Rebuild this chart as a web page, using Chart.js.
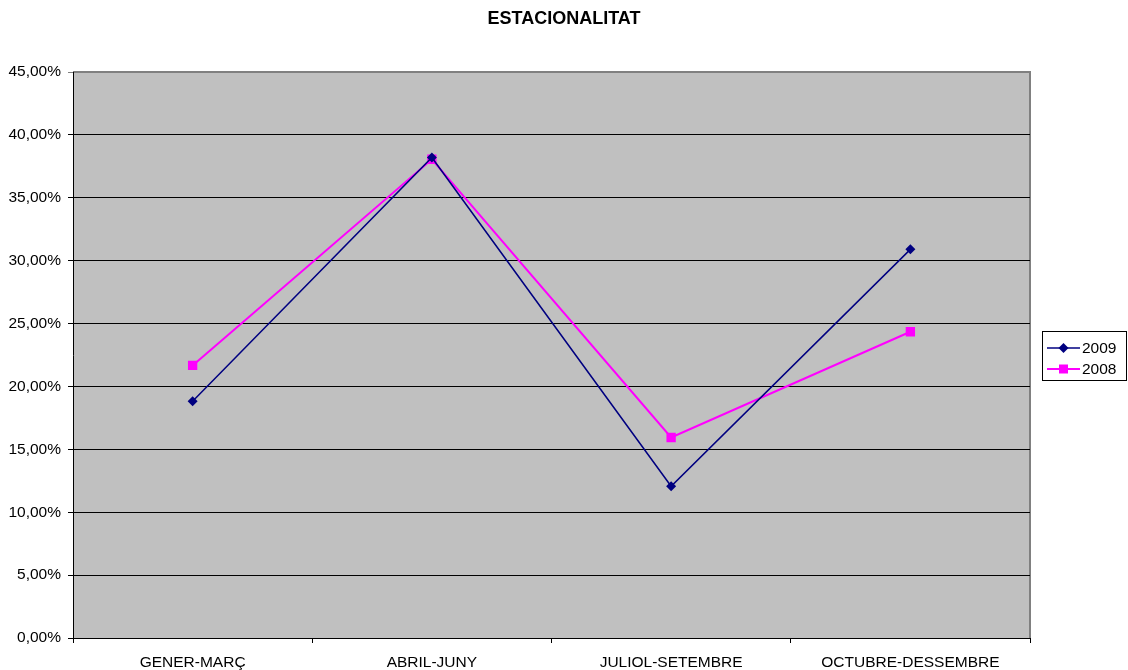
<!DOCTYPE html>
<html>
<head>
<meta charset="utf-8">
<script src="https://cdn.jsdelivr.net/npm/chart.js@4"></script>
<style>
  html, body { margin: 0; padding: 0; background: #fff; }
  #wrap { width: 1128px; height: 670px; }
</style>
</head>
<body>
<div id="wrap"><canvas id="chart" width="1128" height="670"></canvas></div>
<script>
const categories = ["GENER-MARÇ", "ABRIL-JUNY", "JULIOL-SETEMBRE", "OCTUBRE-DESSEMBRE"];
const values2009 = [18.83, 38.2, 12.06, 30.9];
const values2008 = [21.67, 38.06, 15.94, 24.35];
const seriesNames = ["2009", "2008"];
const chartTitle = "ESTACIONALITAT";

const FONT = "'Liberation Sans', Arial, sans-serif";

// gray plot background + frame
const plotBg = {
    id: "plotBg",
    beforeDraw(chart) {
        const a = chart.chartArea;
        const ctx = chart.ctx;
        ctx.save();
        ctx.fillStyle = "#C0C0C0";
        ctx.fillRect(a.left, a.top, a.right - a.left, a.bottom - a.top);
        ctx.strokeStyle = "#808080";
        ctx.lineWidth = 2;
        ctx.beginPath();
        ctx.moveTo(a.left, a.top);
        ctx.lineTo(a.right, a.top);
        ctx.lineTo(a.right, a.bottom);
        ctx.stroke();
        ctx.restore();
    }
};

// title centred on the whole picture, not on the plot
const pageTitle = {
    id: "pageTitle",
    afterDraw(chart) {
        const ctx = chart.ctx;
        ctx.save();
        ctx.fillStyle = "#000";
        ctx.font = "bold 18px " + FONT;
        ctx.textAlign = "center";
        ctx.textBaseline = "middle";
        ctx.fillText(chartTitle, chart.width / 2, 19);
        ctx.restore();
    }
};

// legend like the old office one: line with marker in the middle
const boxLegend = {
    id: "boxLegend",
    afterDraw(chart) {
        const ctx = chart.ctx;
        const x = 1042, y = 331, w = 84, h = 49;
        ctx.save();
        ctx.fillStyle = "#fff";
        ctx.fillRect(x, y, w, h);
        ctx.strokeStyle = "#000";
        ctx.lineWidth = 1;
        ctx.strokeRect(x + 0.5, y + 0.5, w, h);
        chart.data.datasets.forEach(function (ds, i) {
            const ly = y + 17 + i * 21;
            ctx.strokeStyle = ds.borderColor;
            ctx.lineWidth = ds.borderWidth;
            ctx.beginPath();
            ctx.moveTo(x + 5, ly);
            ctx.lineTo(x + 38, ly);
            ctx.stroke();
            ctx.fillStyle = ds.backgroundColor;
            ctx.beginPath();
            if (ds.pointStyle === "rectRot") {
                ctx.moveTo(x + 21.5, ly - 5);
                ctx.lineTo(x + 26.5, ly);
                ctx.lineTo(x + 21.5, ly + 5);
                ctx.lineTo(x + 16.5, ly);
                ctx.closePath();
            } else {
                ctx.rect(x + 17, ly - 4.5, 9, 9);
            }
            ctx.fill();
            ctx.fillStyle = "#000";
            ctx.font = "15.5px " + FONT;
            ctx.textBaseline = "middle";
            ctx.fillText(ds.label, x + 40, ly + 1);
        });
        ctx.restore();
    }
};

new Chart(document.getElementById("chart"), {
    type: "line",
    data: {
        labels: categories,
        datasets: [{
            label: seriesNames[0],
            data: values2009,
            borderColor: "#000080",
            backgroundColor: "#000080",
            borderWidth: 1.5,
            pointStyle: "rectRot",
            pointRadius: 5,
            pointBorderWidth: 0,
            tension: 0
        }, {
            label: seriesNames[1],
            data: values2008,
            borderColor: "#FF00FF",
            backgroundColor: "#FF00FF",
            borderWidth: 2,
            pointStyle: "rect",
            pointRadius: 6.6,
            pointBorderWidth: 0,
            tension: 0
        }]
    },
    options: {
        responsive: false,
        animation: false,
        layout: { padding: { top: 72, right: 98, left: 0, bottom: 0 } },
        plugins: {
            legend: { display: false },
            tooltip: { enabled: false },
            title: { display: false }
        },
        scales: {
            x: {
                offset: true,
                afterFit(scale) { scale.height = 32; },
                border: { color: "#000", width: 1 },
                grid: { offset: true, drawOnChartArea: false, drawTicks: true, tickLength: 5, color: "#000" },
                ticks: { color: "#000", padding: 10, maxRotation: 0, font: { family: FONT, size: 15.5 } }
            },
            y: {
                min: 0,
                max: 45,
                afterFit(scale) { scale.width = 73; },
                border: { color: "#000", width: 1 },
                grid: {
                    drawTicks: true,
                    tickLength: 5,
                    color: function (c) { return c.tick && c.tick.value === 45 ? "#808080" : "#000"; }
                },
                ticks: {
                    stepSize: 5,
                    color: "#000",
                    padding: 7,
                    font: { family: FONT, size: 15.5 },
                    callback: function (v) { return v.toFixed(2).replace(".", ",") + "%"; }
                }
            }
        }
    },
    plugins: [plotBg, pageTitle, boxLegend]
});
</script>
</body>
</html>
